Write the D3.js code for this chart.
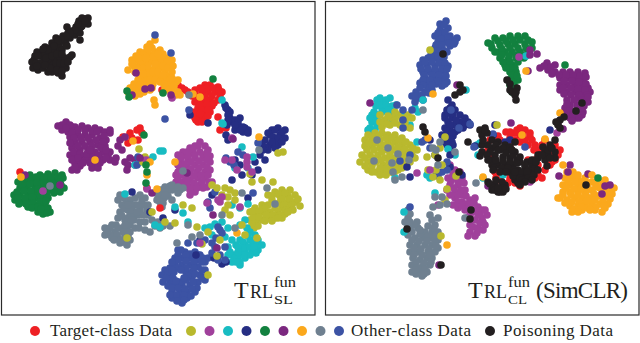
<!DOCTYPE html>
<html>
<head>
<meta charset="utf-8">
<script src="https://cdn.jsdelivr.net/npm/d3@7"></script>
<style>
  html, body { margin: 0; padding: 0; background: #fff; }
  svg { display: block; }
  text { font-family: "Liberation Serif", serif; fill: #231f20; }
</style>
</head>
<body>
<div id="chart"></div>
<script>
const colors = {
    target: '#ee2024', olive: '#b9b92e', magenta: '#a0409b', cyan: '#18bcc2', navy: '#262e83',
    green: '#12813f', purple: '#7b287f', orange: '#fba81c', gray: '#6f8090', blue: '#3c53a4', black: '#231f20'
};

// left panel
const slRed = [[205,85],[200,88],[195,90],[210,85],[218,87],[222,92],[215,92],[208,92],[202,95],[198,96],[192,96],[195,102],[202,102],[210,100],[218,100],[212,106],[205,108],[198,108],[204,114],[210,112],[200,118],[205,120],[198,122],[195,118],[192,112],[182,88],[188,92],[175,84],[168,88],[162,90],[218,117],[226,128],[123,137],[130,133],[137,130],[142,133],[138,140],[132,138],[128,143],[140,128],
    [207,88],[202,91],[213,88],[219,90],[212,96],[205,96],[198,99],[194,94],[206,100],[214,103],[200,105],[207,104],[202,110],[196,112],[208,110],[200,114],[196,120],[202,122],[208,116],[220,96],[178,85],[185,90]];
const slBlack = [[85,19],[83,24],[79,21],[76,27],[72,31],[67,27],[68,33],[63,36],[65,40],[60,42],[56,38],[57,44],[52,43],[50,48],[45,47],[42,52],[37,52],[40,56],[35,56],[45,55],[50,53],[55,50],[60,48],[66,44],[70,38],[75,35],[80,33],[80,40],[34,60],[32,62],[33,68],[38,70],[43,68],[48,64],[44,60],[50,60],[55,58],[60,57],[65,58],[52,72],[58,73],[62,76],[66,68],[60,68],[55,68],[48,72],[53,65],[70,57],[72,55],[62,50],[67,46],
    [81,27],[75,30],[70,33],[66,36],[61,39],[58,41],[54,46],[48,50],[43,49],[38,56],[36,63],[41,63],[37,66],[46,58],[52,56],[57,54],[62,54],[56,63],[60,63],[64,63],[50,68],[45,65],[57,70],[62,71],[68,62],[82,18],[88,18],[88,24],[82,26],[85,21],[78,24]];
const slOrange = [[155,40],[150,44],[147,47],[146,52],[140,52],[136,56],[132,60],[136,60],[142,58],[150,55],[155,52],[160,50],[163,54],[168,58],[172,60],[170,66],[165,62],[160,58],[155,60],[150,62],[145,64],[140,64],[134,66],[128,70],[145,70],[150,70],[155,68],[160,68],[165,72],[168,76],[172,72],[160,76],[155,76],[150,76],[145,78],[140,75],[135,72],[138,80],[134,84],[130,88],[128,92],[133,92],[138,90],[143,86],[148,84],[153,84],[152,88],[144,92],[140,94],[135,96],[147,80],[165,80],[168,84],[172,84],[176,82],[178,80],[165,88],[172,90],[178,92],[176,95],[180,95],[154,100],[155,105],
    [152,48],[148,50],[143,55],[138,58],[146,58],[153,57],[158,54],[164,58],[168,62],[160,63],[155,64],[148,66],[142,68],[137,68],[132,64],[163,66],[168,68],[173,66],[148,73],[153,72],[158,72],[163,75],[143,74],[140,80],[144,82],[150,80],[155,80],[160,82],[136,88],[132,88],[140,85],[146,88],[150,90],[130,94],[168,90],[170,80],[174,86],[164,84],[172,78]];
const slPurple = [[58,126],[66,122],[72,127],[62,130],[68,132],[75,127],[82,126],[88,128],[95,128],[100,130],[105,132],[110,133],[70,137],[78,135],[85,135],[92,135],[100,138],[106,140],[75,142],[82,142],[90,142],[98,145],[105,146],[72,148],[80,150],[88,150],[95,152],[103,152],[110,152],[70,155],[76,156],[84,156],[90,158],[100,158],[108,155],[75,163],[80,166],[80,160],[85,160],[72,170],[77,170],[95,165],[103,160],[110,160],[92,168],[98,168],[120,140],[125,137],[118,146],[122,150],[116,158],[130,158],[125,162],[135,160],[135,165],[128,165],[115,162],[110,130],
    [62,125],[70,125],[78,130],[85,130],[92,131],[97,132],[104,136],[72,133],[66,128],[74,138],[81,138],[88,138],[96,140],[103,142],[78,146],[85,146],[92,146],[101,148],[70,143],[74,152],[80,154],[87,154],[93,155],[98,155],[106,150],[72,160],[78,158],[83,163],[75,167],[100,163],[106,158],[95,161],[90,163],[90,150]];
const slGreen = [[62,175],[55,173],[48,174],[40,175],[30,175],[22,178],[18,182],[25,182],[33,180],[40,180],[48,180],[55,180],[63,178],[20,188],[27,188],[35,186],[42,186],[50,185],[57,185],[14,195],[20,195],[28,195],[35,192],[42,192],[50,190],[58,190],[64,188],[15,200],[22,202],[30,200],[37,198],[43,198],[48,198],[28,207],[35,205],[42,205],[48,208],[38,212],[43,214],[50,212],[45,203],
    [58,177],[51,177],[44,177],[36,177],[28,178],[22,185],[30,184],[37,183],[44,183],[52,183],[60,182],[17,192],[24,191],[31,191],[38,189],[46,189],[54,188],[61,185],[18,198],[25,198],[32,197],[40,195],[47,195],[54,193],[60,192],[19,204],[26,204],[33,203],[40,202],[46,201],[32,208],[38,207],[45,209],[41,209],[47,213]];
const slMagenta = [[200,142],[205,146],[195,146],[190,148],[183,152],[178,155],[185,155],[192,153],[200,152],[208,150],[210,156],[203,158],[195,158],[188,160],[180,162],[210,162],[203,165],[195,165],[187,167],[180,168],[176,175],[183,175],[190,173],[197,172],[205,172],[210,170],[176,182],[183,182],[190,180],[198,178],[205,178],[212,182],[185,187],[192,187],[200,185],[207,187],[195,192],
    [198,146],[193,150],[187,152],[181,158],[188,157],[195,155],[203,155],[207,153],[207,160],[199,161],[191,162],[184,164],[178,165],[207,167],[199,168],[191,169],[184,170],[178,178],[186,178],[194,176],[201,175],[208,175],[180,185],[187,184],[194,183],[202,182],[209,182],[190,190],[197,188],[203,188],[178,172]];
const slGray = [[120,195],[118,200],[122,205],[130,200],[135,205],[128,210],[120,212],[118,218],[125,220],[112,225],[108,232],[115,232],[122,228],[130,225],[138,215],[143,205],[140,210],[135,215],[148,205],[145,198],[160,190],[165,187],[170,186],[175,188],[180,190],[183,188],[160,197],[163,203],[156,193],[148,215],[152,220],[158,222],[163,226],[170,226],[105,228],[105,235],[112,238],[118,238],[125,238],[120,243],[125,235],[130,232],[127,245],[130,240],[135,228],[140,222],[145,230],[150,232],
    [124,198],[126,204],[132,205],[124,209],[122,216],[130,215],[128,218],[116,225],[118,228],[126,225],[134,220],[110,228],[110,235],[117,235],[123,232],[127,230],[132,210],[138,205],[142,200],[147,210],[143,215],[155,226],[160,228],[124,242],[120,240],[128,236],[163,190],[168,190],[172,190],[178,193],[158,194],[164,198],[160,202],[145,222],[139,228],[107,232],[114,240],
    [128,205],[135,198],[140,195],[137,212],[128,225],[132,220],[125,225],[165,192],[172,185],[178,187],[168,196],[162,207],[157,200]];
const slOlive = [[282,190],[290,190],[275,192],[268,195],[280,196],[288,196],[295,195],[272,200],[280,202],[288,202],[296,202],[262,205],[268,205],[275,208],[282,208],[290,208],[300,206],[255,208],[250,212],[256,214],[263,212],[270,212],[278,212],[285,214],[250,220],[256,222],[262,220],[268,218],[275,218],[282,218],[254,228],[258,226],
    [285,193],[278,194],[272,196],[282,199],[290,199],[276,204],[284,205],[292,205],[298,199],[265,208],[286,210],[293,210],[253,211],[259,211],[266,215],[273,215],[280,215],[288,212],[253,218],[259,217],[252,224],[265,221],[272,221],[278,218]];
const slCyan = [[245,220],[240,225],[247,228],[240,240],[245,245],[250,240],[255,235],[250,232],[258,240],[258,250],[252,250],[245,252],[240,252],[258,245],[245,258],[238,258],[233,255],[232,262],[240,265],[236,245],
    [243,242],[248,236],[253,243],[248,247],[254,247],[243,248],[238,247],[256,253],[250,255],[244,255],[238,253],[262,245],[234,258],[240,262],[236,262],[228,255]];
const slBlue = [[178,250],[185,252],[195,252],[200,255],[208,258],[175,258],[182,258],[190,258],[198,260],[205,262],[175,265],[182,265],[190,265],[198,267],[205,270],[170,268],[165,270],[162,275],[170,275],[186,272],[192,272],[200,275],[205,277],[163,282],[170,282],[192,278],[198,282],[205,280],[175,285],[182,285],[190,285],[197,288],[172,292],[180,292],[187,292],[195,292],[172,298],[180,298],[187,298],[182,303],
    [181,250],[190,254],[198,255],[203,258],[178,255],[186,255],[194,256],[202,262],[178,260],[186,261],[194,262],[172,262],[168,272],[178,268],[186,268],[194,268],[202,270],[166,278],[173,278],[188,276],[195,274],[202,278],[168,286],[180,282],[186,280],[193,282],[172,288],[178,288],[185,289],[192,289],[176,295],[184,295],[191,296],[177,301],[184,300],[170,295],
    [174,272],[181,270],[176,281],[184,278],[172,270]];
const slNavy = [[225,105],[228,110],[230,118],[227,125],[235,120],[240,118],[238,125],[245,128],[235,130],[243,132],[248,130],[226,135],[228,140],[278,128],[272,130],[285,130],[265,140],[270,135],[275,140],[280,135],[285,138],[278,145],[270,145],[262,145],[268,150],[260,155],[265,160],[190,115],[208,123],
    [275,130],[282,132],[268,133],[273,137],[278,138],[282,142],[272,142],[265,147],[275,148],[263,150],[230,112],[232,122],[238,122],[243,127],[248,133],[240,130],[235,125],[228,115],[226,108],[228,120]];
// scattered points that sit on top of the clusters
const slLooseBlue = [[165,119],[189,110],[171,53],[155,35],[230,162],[226,158],[234,165],[238,152],[243,155],[258,143],[215,192],[208,202],[210,208],[220,230],[218,227],[222,233],[197,243],[188,243],[212,243],[215,247],[225,247],[218,260],[225,260],[220,255],[212,253],[253,193],[138,157],[137,165],[205,240],[216,238]];
const slLooseNavy = [[132,192],[175,210],[163,218],[248,198],[232,180],[242,175],[252,175],[235,160],[258,170],[226,262],[214,258],[222,264],[196,255],[200,240],[150,212],[240,165],[255,162],[212,195]];
const slLooseCyan = [[160,151],[163,151],[153,157],[222,100],[222,123],[223,124],[242,147],[253,157],[248,168],[235,168],[135,165],[175,207],[183,213],[155,225],[160,227],[205,228],[210,227],[215,224],[222,222],[228,228],[228,247],[238,252],[225,237],[232,240],[212,235],[230,252],[125,194],[140,162],[188,222],[240,208],[248,204],[232,205]];
const slLooseOlive = [[139,149],[145,157],[143,162],[252,182],[262,180],[273,182],[250,174],[225,188],[230,190],[235,200],[228,205],[225,210],[230,215],[217,188],[222,195],[183,205],[192,208],[197,227],[152,212],[175,223],[127,238],[208,232],[220,240],[217,256],[208,275],[242,225],[245,235],[257,238],[278,153],[283,152],[165,222],[235,193],[228,197],[212,185],[202,244]];
const slLooseMagenta = [[43,191],[172,98],[146,160],[147,189],[190,195],[225,160],[247,157],[247,162],[247,167],[237,170],[232,138],[252,172],[220,202],[240,207],[207,203],[200,243],[222,197],[232,160],[218,200]];
const slLoosePurple = [[25,175],[60,185],[136,73],[132,95],[145,89],[151,88],[171,95],[152,193],[187,173],[213,215],[217,248],[127,170],[140,158],[233,139]];
const slLooseOrange = [[21,177],[133,141],[150,162],[147,175],[175,162],[157,189],[193,94],[200,97],[259,137],[237,233],[95,160]];
const slLooseGray = [[50,186],[183,171],[189,95],[188,225],[177,243],[200,235],[192,237],[222,215],[235,228],[242,193],[267,188],[275,204],[259,150],[165,195],[172,200]];
const slLooseGreen = [[144,135],[213,79],[127,91],[129,97],[163,93],[147,172],[146,165],[146,183]];
const slLooseRed = [[147,188],[160,208],[20,172],[220,130],[148,160]];

// right panel
const clBlue = [[126,21],[120,24],[128,28],[120,30],[115,36],[122,36],[130,36],[118,42],[125,42],[132,40],[137,38],[115,48],[122,48],[130,46],[112,52],[120,54],[127,52],[135,42],[108,58],[115,58],[122,60],[103,60],[100,65],[107,65],[115,66],[123,66],[128,66],[103,72],[110,72],[118,72],[125,72],[105,78],[113,78],[120,78],[100,83],[108,82],[116,84],[124,80],[127,82],[122,86],[96,92],[92,96],[98,98],[105,92],[112,90],[108,88],[95,102],[103,100],
    [124,25],[118,33],[125,32],[121,39],[128,38],[116,45],[122,45],[129,43],[134,44],[117,51],[124,51],[111,55],[118,56],[124,57],[105,62],[112,62],[119,63],[125,63],[101,69],[108,69],[115,69],[122,69],[127,69],[104,75],[112,75],[119,75],[126,76],[103,80],[110,80],[118,81],[125,84],[103,85],[112,85],[100,88],[96,96],[102,95],[109,93]];
const clGreen = [[168,43],[175,38],[183,38],[190,36],[198,36],[205,36],[212,42],[172,48],[180,45],[188,44],[195,44],[205,44],[212,48],[178,52],[185,52],[192,52],[200,52],[208,52],[180,58],[188,60],[196,58],[204,58],[185,65],[192,65],[198,62],[190,72],[196,72],[193,78],[198,80],[190,85],[192,92],
    [171,44],[178,41],[186,41],[193,40],[200,40],[208,40],[175,52],[182,49],[190,48],[198,48],[206,48],[182,55],[189,56],[196,55],[203,55],[183,62],[190,62],[195,68],[190,68],[186,68],[192,75],[197,76],[189,80],[194,84],[191,88]];
const clPurple = [[220,68],[227,63],[235,65],[228,70],[235,72],[243,72],[250,72],[258,72],[265,73],[240,78],[248,78],[256,78],[263,80],[240,85],[247,85],[255,85],[262,86],[268,88],[240,90],[247,92],[255,92],[263,92],[270,92],[258,98],[265,98],[268,102],[250,105],[257,105],[264,106],[245,108],[250,112],[257,112],[263,112],[250,118],[256,118],[262,115],
    [224,66],[231,67],[232,74],[239,75],[246,75],[253,75],[260,76],[266,77],[244,81],[252,81],[259,82],[266,84],[243,88],[251,88],[258,89],[265,90],[244,94],[251,95],[259,95],[267,95],[262,100],[254,100],[247,100],[250,108],[258,108],[261,108],[247,104],[246,113],[253,115],[259,118],[252,121],[268,97]];
const clCyan = [[57,100],[63,102],[70,98],[72,106],[62,108],[70,112],[76,105],[52,115],[58,115],[52,122],[60,122],[55,130],[50,128],[83,115],[90,125],[72,120],[95,108],[98,112],
    [60,98],[66,100],[56,106],[60,105],[66,105],[68,110],[54,112],[50,118],[56,120],[62,112],[57,126],[48,130],[53,133]];
const clOlive = [[60,115],[65,120],[60,122],[72,118],[78,115],[88,115],[92,118],[85,122],[90,128],[80,125],[70,125],[62,127],[75,112],[48,135],[55,133],[62,133],[45,140],[52,140],[60,140],[45,146],[52,146],[60,148],[68,135],[75,135],[82,138],[68,142],[75,142],[82,145],[90,145],[68,150],[75,150],[82,152],[90,152],[97,150],[42,155],[50,155],[58,155],[65,158],[72,158],[80,158],[88,158],[95,158],[40,162],[48,162],[56,162],[63,165],[70,165],[78,165],[85,165],[48,170],[56,172],[63,172],[70,172],[78,170],
    [52,137],[59,136],[66,138],[72,138],[79,140],[86,142],[49,143],[56,143],[63,145],[71,146],[78,147],[85,149],[93,148],[47,150],[54,150],[62,152],[70,154],[78,155],[85,155],[92,155],[45,158],[53,158],[61,160],[69,161],[76,161],[83,161],[90,162],[45,166],[52,166],[60,168],[67,168],[75,168],[82,168],[52,172],[60,175],[66,175],[74,173],[68,116],[64,122],[75,120],[82,118],[86,118],[75,123],[67,124],[85,127]];
const clNavy = [[128,100],[132,105],[127,110],[125,115],[130,112],[135,110],[125,118],[132,118],[140,115],[145,118],[148,122],[140,122],[135,125],[150,125],[143,128],[125,128],[130,130],[135,132],[122,135],[128,136],[133,136],[125,142],[132,142],[130,148],
    [130,108],[128,113],[133,114],[128,122],[130,125],[127,131],[132,133],[125,138],[130,139],[136,120],[143,122],[145,125],[138,130],[127,145],[133,145]];
const clRed = [[195,133],[200,135],[190,138],[205,130],[173,135],[208,145],[218,150],[225,152],[232,155],[235,160],[180,140],[190,145],[200,142],[212,140],[168,150],[172,158],[205,175],[212,170],[225,170],[230,165],[190,178],[195,183],[182,175],[225,140],[235,145],[240,150],[192,168],[215,160],[208,160],
    [190,132],[197,130],[203,135],[210,137],[170,140],[178,136],[195,140],[205,140],[215,145],[222,145],[238,155],[232,162],[212,175],[188,183],[200,186],[205,180],[218,165],[175,172],[180,180],
    [186,132],[200,128],[210,133],[214,150],[222,178],[215,178],[218,175],[176,178]];
const clBlack = [[160,130],[165,128],[162,135],[167,133],[162,145],[162,152],[160,156],[172,140],[178,142],[185,145],[172,148],[180,150],[188,150],[195,152],[175,155],[183,157],[190,158],[197,160],[170,160],[178,165],[185,165],[193,165],[200,162],[207,162],[172,165],[198,170],[205,168],[212,165],[190,172],[197,175],[205,175],[212,172],[195,180],[203,178],[198,183],[220,155],[225,150],[230,145],[235,140],[228,155],[235,152],[218,158],[225,160],[227,166],[235,158],[168,182],[175,185],[180,188],[185,185],[178,192],[172,190],[195,142],[140,85],[143,90],[135,95],[140,92],[187,80],[190,84],[190,90],[197,88],[195,95],[196,100],[192,92],[196,92],[103,127],[105,132],
    [176,145],[183,148],[190,147],[168,145],[170,152],[178,150],[186,153],[193,155],[200,157],[167,155],[176,160],[183,161],[190,162],[197,163],[205,165],[174,168],[182,168],[188,168],[194,170],[201,172],[208,170],[215,168],[193,176],[200,178],[207,172],[195,172],[212,160],[218,155],[223,147],[228,150],[232,148],[222,155],[230,158],[170,184],[176,180],[182,182],[183,188],[174,188],[180,192],[165,130],[163,140],
    [168,160],[173,170],[180,172],[186,172],[192,150],[202,180],[208,178],[214,175],[218,170],[212,180],[205,182],[200,185],[216,162],[175,190],[183,192],[178,188],[186,189]];
const clOrange = [[247,172],[253,172],[245,178],[252,178],[258,180],[265,178],[243,185],[250,185],[258,186],[265,186],[272,182],[278,180],[285,180],[243,192],[250,192],[258,192],[265,192],[272,190],[280,188],[288,188],[294,188],[240,198],[247,200],[255,198],[262,198],[270,198],[278,196],[286,196],[292,194],[250,206],[258,206],[265,204],[272,204],[280,204],[288,204],[252,212],[262,210],[275,210],[282,212],[285,208],[238,198],
    [250,175],[256,176],[248,181],[255,182],[262,182],[268,183],[276,184],[283,184],[246,188],[254,189],[261,189],[268,189],[276,187],[284,191],[291,191],[243,195],[251,195],[258,195],[266,195],[274,194],[282,193],[289,192],[245,203],[252,202],[259,202],[267,201],[275,200],[283,200],[290,199],[254,209],[261,207],[268,208],[276,207],[284,206],[258,212],[270,210]];
const clMagenta = [[130,165],[135,170],[140,172],[128,178],[135,178],[142,178],[130,185],[138,185],[145,190],[135,192],[142,195],[150,200],[155,198],[135,198],[142,202],[150,205],[158,207],[138,208],[145,210],[152,212],[160,213],[147,218],[155,220],[162,218],[150,225],[158,228],[163,222],
    [133,174],[138,175],[131,181],[138,181],[144,183],[134,188],[141,190],[138,195],[146,196],[138,202],[146,204],[154,203],[142,206],[148,208],[155,210],[162,210],[150,215],[158,215],[152,220],[160,223],[153,227],
    [150,232],[157,233],[163,230],[148,236],[155,236],[165,225],[133,205],[127,190],[130,195],[167,215],[165,210]];
const clGray = [[88,210],[88,218],[85,222],[97,222],[110,215],[118,218],[115,225],[90,228],[98,228],[105,232],[112,232],[118,232],[88,235],[95,238],[103,238],[112,238],[118,240],[90,245],[97,245],[105,245],[112,245],[118,248],[90,252],[97,252],[108,252],[115,252],[93,258],[100,260],[107,258],[112,258],[95,265],[102,267],[110,265],[92,265],[92,272],[100,272],[107,272],[102,276],
    [90,214],[88,226],[94,225],[92,232],[100,234],[108,236],[114,228],[116,235],[92,240],[99,241],[107,241],[115,243],[94,248],[101,249],[109,249],[116,246],[94,255],[102,255],[110,255],[96,262],[104,263],[111,262],[97,268],[105,269],[96,274],[104,274],[112,220],[90,222],[108,226],[100,230],[95,270]];
const clLooseBlue = [[77,105],[83,110],[92,110],[83,120],[83,128],[131,110],[139,128],[150,124],[80,161],[90,155],[102,142],[105,140],[122,172],[116,175],[127,162],[118,176],[90,207],[154,147],[173,134],[205,147],[110,148],[127,170]];
const clLooseNavy = [[87,167],[155,146],[175,125],[173,135],[190,140],[185,142],[115,155],[130,167],[142,175],[110,140],[230,130],[130,155],[90,177]];
const clLooseCyan = [[206,56],[146,90],[103,100],[97,142],[128,149],[107,175],[115,193],[75,178],[110,178],[158,155],[160,143],[84,212],[84,232],[183,175],[157,145],[163,178],[135,155]];
const clLooseOlive = [[110,50],[125,137],[120,148],[107,157],[115,155],[177,125],[113,177],[120,180],[116,170],[108,170],[127,189],[136,176],[121,236],[125,200],[122,165]];
const clLooseMagenta = [[199,57],[237,133],[97,173],[118,205],[110,170],[170,185],[210,182]];
const clLoosePurple = [[50,103],[210,50],[217,54],[210,55],[208,71],[137,85],[191,123],[238,122],[243,129],[239,176],[250,165],[248,172],[268,174],[285,186],[290,185],[282,194],[119,265],[168,186]];
const clLooseOrange = [[206,71],[225,139],[240,113],[113,94],[108,138],[127,245],[202,135],[243,165],[258,175],[272,175],[163,177]];
const clLooseGray = [[57,140],[68,148],[54,161],[78,154],[89,160],[72,163],[103,110],[135,152],[118,165],[113,148],[120,142],[115,197],[122,197],[127,204],[113,207],[120,205],[73,172],[75,180],[82,177],[156,183],[145,218],[116,150]];
const clLooseGreen = [[245,65],[278,178]];
const clLooseBlack = [[123,54],[262,103],[256,111],[244,117],[240,120],[238,125],[240,128],[236,122],[266,185],[87,229],[121,265],[151,210],[150,219],[139,172],[118,158],[148,142]];

const slLayers = [
    [slRed, 'target'], [slBlack, 'black'], [slNavy, 'navy'], [slOrange, 'orange'], [slPurple, 'purple'], [slGreen, 'green'],
    [slMagenta, 'magenta'], [slOlive, 'olive'], [slCyan, 'cyan'], [slGray, 'gray'], [slBlue, 'blue'],
    [slLooseRed, 'target'], [slLooseNavy, 'navy'], [slLooseCyan, 'cyan'], [slLooseBlue, 'blue'], [slLooseOlive, 'olive'],
    [slLooseMagenta, 'magenta'], [slLoosePurple, 'purple'], [slLooseOrange, 'orange'], [slLooseGray, 'gray'], [slLooseGreen, 'green']
];
const clLayers = [
    [clRed, 'target'], [clCyan, 'cyan'], [clOlive, 'olive'], [clBlue, 'blue'], [clGreen, 'green'], [clPurple, 'purple'],
    [clNavy, 'navy'], [clOrange, 'orange'], [clMagenta, 'magenta'], [clGray, 'gray'],
    [clLooseCyan, 'cyan'], [clLooseNavy, 'navy'], [clLooseBlue, 'blue'], [clLooseOlive, 'olive'], [clLooseMagenta, 'magenta'],
    [clLoosePurple, 'purple'], [clLooseOrange, 'orange'], [clLooseGray, 'gray'], [clLooseGreen, 'green'],
    [clBlack, 'black'], [clLooseBlack, 'black']
];

const legendDots = ['olive', 'magenta', 'cyan', 'navy', 'green', 'purple', 'orange', 'gray', 'blue'];

const svg = d3.select('#chart').append('svg')
    .attr('width', 640)
    .attr('height', 343);

function drawPanel(layers, left, right) {
    const x = d3.scaleLinear().domain([0, 320]).range([left, left + 320]);
    const y = d3.scaleLinear().domain([0, 320]).range([0, 320]);

    const g = svg.append('g');
    layers.forEach(([points, key]) => {
        g.append('g')
            .selectAll('circle')
            .data(points)
            .enter()
            .append('circle')
            .attr('cx', d => x(d[0]))
            .attr('cy', d => y(d[1]))
            .attr('r', 3.8)
            .attr('fill', colors[key]);
    });

    g.append('rect')
        .attr('x', right[0])
        .attr('y', 1.5)
        .attr('width', right[1] - right[0])
        .attr('height', 313.5)
        .attr('fill', 'none')
        .attr('stroke', '#2b2b2b')
        .attr('stroke-width', 1.2);
}

drawPanel(slLayers, 0, [1.5, 315]);
drawPanel(clLayers, 320, [325.5, 639]);

// Trl label with its sup and sub
function trlLabel(xPos, sub) {
    const t = svg.append('g');
    t.append('text').attr('x', xPos).attr('y', 298).style('font-size', '24px').text('T');
    t.append('text').attr('x', xPos + 16).attr('y', 298).attr('textLength', 23).attr('lengthAdjust', 'spacingAndGlyphs').style('font-size', '19px').text('RL');
    t.append('text').attr('x', xPos + 40).attr('y', 287).attr('textLength', 22).attr('lengthAdjust', 'spacingAndGlyphs').style('font-size', '15px').text('fun');
    t.append('text').attr('x', xPos + 40).attr('y', 304).attr('textLength', 19).attr('lengthAdjust', 'spacingAndGlyphs').style('font-size', '13.5px').text(sub);
}
trlLabel(234, 'SL');
trlLabel(468, 'CL');
svg.append('text').attr('x', 536).attr('y', 298).attr('textLength', 92).style('font-size', '23px').text('(SimCLR)');

// Legend
const legendY = 331;
svg.append('circle').attr('cx', 35).attr('cy', legendY).attr('r', 5).attr('fill', colors.target);
svg.append('text').attr('x', 50).attr('y', 336).attr('textLength', 122).style('font-size', '17px').text('Target-class Data');
const legendX = d3.scalePoint().domain(legendDots).range([191, 339]);
svg.selectAll('.legend-dot')
    .data(legendDots)
    .enter()
    .append('circle')
    .attr('class', 'legend-dot')
    .attr('cx', d => legendX(d))
    .attr('cy', legendY)
    .attr('r', 5)
    .attr('fill', d => colors[d]);
svg.append('text').attr('x', 351).attr('y', 336).attr('textLength', 120).style('font-size', '17px').text('Other-class Data');
svg.append('circle').attr('cx', 490).attr('cy', legendY).attr('r', 5).attr('fill', colors.black);
svg.append('text').attr('x', 503).attr('y', 336).attr('textLength', 110).style('font-size', '17px').text('Poisoning Data');
</script>
</body>
</html>
